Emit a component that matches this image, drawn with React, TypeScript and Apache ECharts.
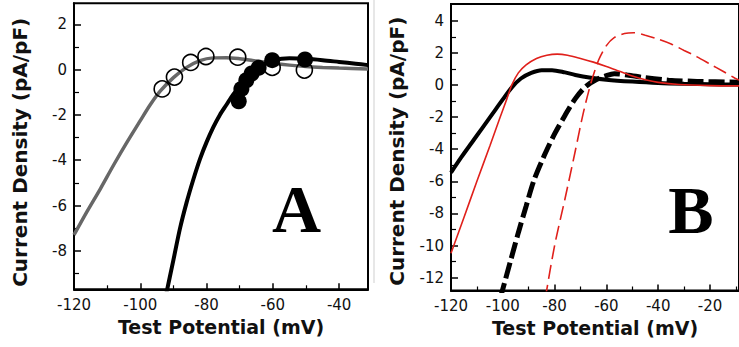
import React, { useEffect, useRef } from "react";
import * as echarts from "echarts";

// ---------- Panel A data ----------
const xTicksA = [-120, -100, -80, -60, -40];
const xMinorA = [-110, -90, -70, -50];
const yTicksA = [-8, -6, -4, -2, 0, 2];
const yMinorA = [-9, -7, -5, -3, -1, 1];

const grayCurveA: number[][] = [
  [-120, -7.3], [-116, -6.25], [-112, -5.25], [-108, -4.2], [-104, -3.2],
  [-100, -2.25], [-97, -1.55], [-94, -0.95], [-90, -0.35], [-86, 0.1],
  [-82, 0.4], [-78, 0.52], [-74, 0.53], [-70, 0.48], [-65, 0.38],
  [-60, 0.28], [-55, 0.2], [-50, 0.14], [-45, 0.1], [-40, 0.07], [-31.3, 0.03],
];
const openCirclesA: number[][] = [
  [-93.4, -0.85], [-89.7, -0.33], [-84.8, 0.32], [-80.2, 0.58],
  [-70.6, 0.55], [-60.2, 0.1], [-50.5, -0.02],
];
const blackCurveA: number[][] = [
  [-92.6, -10.2], [-90, -8.4], [-88, -7.0], [-86, -5.85], [-84, -4.85],
  [-82, -3.95], [-80, -3.2], [-78, -2.55], [-76, -2.0], [-74, -1.55], [-72, -1.1],
  [-70, -0.75], [-68, -0.42], [-66, -0.12], [-64, 0.12], [-62, 0.3],
  [-60, 0.42], [-55, 0.5], [-50, 0.48], [-45, 0.42], [-40, 0.34], [-35, 0.26], [-31.3, 0.2],
];
const filledCirclesA: number[][] = [
  [-70.3, -1.4], [-69.5, -0.85], [-68.0, -0.47], [-66.4, -0.17],
  [-64.3, 0.08], [-60.2, 0.42], [-50.3, 0.45],
];

// ---------- Panel B data ----------
const xTicksB = [-120, -100, -80, -60, -40, -20];
const xMinorB = [-110, -90, -70, -50, -30, -10];
const yTicksB = [-12, -10, -8, -6, -4, -2, 0, 2, 4];
const yMinorB = [-11, -9, -7, -5, -3, -1, 1, 3];

const blackSolidB: number[][] = [
  [-120, -5.46], [-116, -4.5], [-112, -3.6], [-108, -2.7], [-104, -1.8],
  [-100, -0.9], [-96.5, -0.15], [-93, 0.4], [-89, 0.75], [-85, 0.92],
  [-81, 0.92], [-76, 0.78], [-72, 0.62], [-66, 0.45], [-60, 0.33],
  [-50, 0.21], [-40, 0.12], [-30, 0.07], [-20, 0.04], [-8.8, 0.02],
];
const blackDashedB: number[][] = [
  [-101, -13.3], [-97, -10.95], [-94, -9.2], [-91, -7.55], [-88, -5.95],
  [-84, -4.4], [-80, -3.05], [-76, -1.9], [-72, -0.85], [-68, -0.1],
  [-64, 0.32], [-60, 0.58], [-57, 0.7], [-52, 0.62], [-45, 0.45],
  [-36, 0.3], [-25, 0.22], [-8.8, 0.17],
];
const redSolidB: number[][] = [
  [-120, -10.48], [-115, -8.25], [-110, -6.0], [-105, -3.8], [-101, -2.0],
  [-98.5, -0.9], [-96.5, 0.0], [-94, 0.75], [-91, 1.25], [-87, 1.65],
  [-83, 1.85], [-79, 1.92], [-75, 1.85], [-70, 1.65], [-65, 1.42],
  [-60, 1.15], [-55, 0.85], [-50, 0.55], [-45, 0.32], [-40, 0.16],
  [-32, 0.03], [-20, -0.04], [-8.8, -0.06],
];
const redDashedB: number[][] = [
  [-83.6, -13.3], [-80, -10.0], [-76, -7.1], [-72, -4.1], [-69, -1.8],
  [-66, 0.1], [-63, 1.55], [-60, 2.45], [-57, 2.95], [-53, 3.2],
  [-49.5, 3.25], [-45, 3.1], [-40, 2.85], [-35, 2.55], [-30, 2.15],
  [-25, 1.75], [-20, 1.3], [-15, 0.85], [-10.3, 0.42], [-8.8, 0.3],
];

const FONT = "DejaVu Sans";

function majorX(gridIndex: number, min: number, max: number, ticks: number[]) {
  return {
    type: "value", gridIndex, min, max, position: "bottom",
    name: "Test Potential (mV)", nameLocation: "middle", nameGap: 24.5,
    nameTextStyle: { fontFamily: FONT, fontWeight: "bold", fontSize: 19, color: "#111" },
    axisLine: { show: true, onZero: false, lineStyle: { color: "#000", width: 2 } },
    axisTick: { show: true, inside: true, length: 6, customValues: ticks, lineStyle: { color: "#000", width: 1.5 } },
    axisLabel: { show: true, customValues: ticks, margin: 8, fontFamily: FONT, fontSize: 15, color: "#111" },
    splitLine: { show: false },
  };
}
function minorX(gridIndex: number, min: number, max: number, ticks: number[]) {
  return {
    type: "value", gridIndex, min, max, position: "bottom",
    axisLine: { show: false, onZero: false },
    axisTick: { show: true, inside: true, length: 4, customValues: ticks, lineStyle: { color: "#000", width: 1.2 } },
    axisLabel: { show: false },
    splitLine: { show: false },
  };
}
function majorY(gridIndex: number, min: number, max: number, ticks: number[], pad: number) {
  return {
    type: "value", gridIndex, min, max, position: "left",
    name: "Current Density (pA/pF)", nameLocation: "middle", nameGap: 44,
    nameTextStyle: { fontFamily: FONT, fontWeight: "bold", fontSize: 20, color: "#111", padding: [0, pad, 0, 0] },
    axisLine: { show: true, onZero: false, lineStyle: { color: "#000", width: 2 } },
    axisTick: { show: true, inside: true, length: 7, customValues: ticks, lineStyle: { color: "#000", width: 1.5 } },
    axisLabel: { show: true, customValues: ticks, margin: 7, fontFamily: FONT, fontSize: 15, color: "#111" },
    splitLine: { show: false },
  };
}
function minorY(gridIndex: number, min: number, max: number, ticks: number[]) {
  // ticks drawn outward from an axis shifted 5px into the plot, so they sit inside the frame
  return {
    type: "value", gridIndex, min, max, position: "left", offset: -5,
    axisLine: { show: false, onZero: false },
    axisTick: { show: true, inside: false, length: 5, customValues: ticks, lineStyle: { color: "#000", width: 1.2 } },
    axisLabel: { show: false },
    splitLine: { show: false },
  };
}

export default function App() {
  const ref = useRef<HTMLDivElement>(null);
  useEffect(() => {
    if (!ref.current) return;
    const chart = echarts.init(ref.current, undefined, { renderer: "svg" });
    const line = (data: number[][], xi: number, yi: number, color: string, width: number, type: any, z: number) => ({
      type: "line", xAxisIndex: xi, yAxisIndex: yi, data, showSymbol: false, symbol: "none",
      smooth: 0.3, clip: true, z,
      lineStyle: { color, width, type, cap: "butt" },
    });
    chart.setOption({
      animation: false,
      backgroundColor: "#fff",
      grid: [
        { left: 74, top: 3.3, width: 294, height: 286, show: true, borderColor: "#000", borderWidth: 2, backgroundColor: "transparent" },
        { left: 451, top: 4, width: 292, height: 286.5, show: true, borderColor: "#000", borderWidth: 2, backgroundColor: "transparent" },
      ],
      xAxis: [
        majorX(0, -120, -31.3, xTicksA),
        minorX(0, -120, -31.3, xMinorA),
        majorX(1, -120, -8.8, xTicksB),
        minorX(1, -120, -8.8, xMinorB),
      ],
      yAxis: [
        majorY(0, -9.7, 2.93, yTicksA, 12),
        minorY(0, -9.7, 2.93, yMinorA),
        majorY(1, -12.8, 5.04, yTicksB, 8),
        minorY(1, -12.8, 5.04, yMinorB),
      ],
      series: [
        line(grayCurveA, 0, 0, "#676767", 3.5, "solid", 2),
        {
          type: "scatter", xAxisIndex: 0, yAxisIndex: 0, data: openCirclesA, symbol: "circle", symbolSize: 16, z: 3,
          itemStyle: { color: "rgba(255,255,255,0)", borderColor: "#000", borderWidth: 1.6, opacity: 1 },
        },
        line(blackCurveA, 0, 0, "#000", 4, "solid", 4),
        {
          type: "scatter", xAxisIndex: 0, yAxisIndex: 0, data: filledCirclesA, symbol: "circle", symbolSize: 16, z: 5,
          itemStyle: { color: "#000", opacity: 1 },
        },
        line(blackSolidB, 2, 2, "#000", 4, "solid", 2),
        line(blackDashedB, 2, 2, "#000", 5, [16, 5], 2),
        line(redSolidB, 2, 2, "#e0201b", 1.6, "solid", 3),
        line(redDashedB, 2, 2, "#e0201b", 1.6, [14, 6], 3),
      ],
      graphic: [
        { type: "line", shape: { x1: 374, y1: 0, x2: 374, y2: 283 }, style: { stroke: "#cfcfcf", lineWidth: 1 }, silent: true },
        {
          type: "text", x: 296.5, y: 208.8,
          style: { text: "A", font: 'bold 68px "Liberation Serif"', fill: "#000", textAlign: "center", textVerticalAlign: "middle" },
        },
        {
          type: "text", x: 691, y: 210.4,
          style: { text: "B", font: 'bold 68px "Liberation Serif"', fill: "#000", textAlign: "center", textVerticalAlign: "middle" },
        },
      ],
    });
    return () => chart.dispose();
  }, []);
  return <div ref={ref} style={{ position: "absolute", left: 0, top: 0, width: 739, height: 347 }} />;
}
